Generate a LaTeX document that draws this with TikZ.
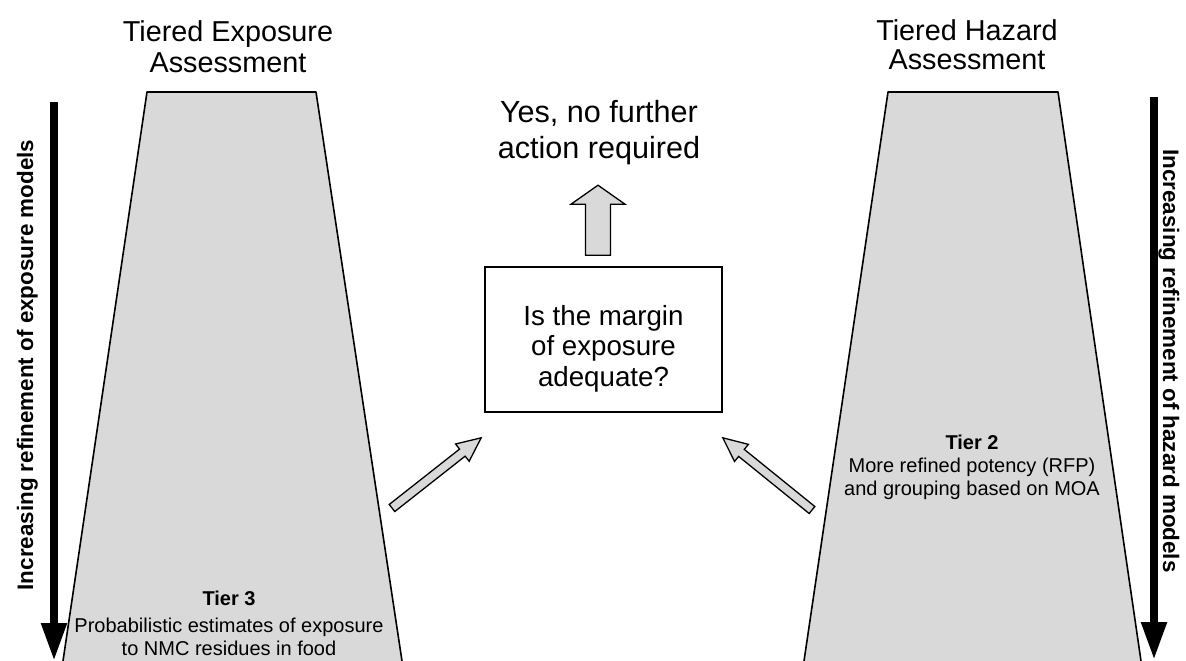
\documentclass[tikz,border=0pt]{standalone}
\usepackage{fontspec}
\setmainfont{Liberation Sans}
\usetikzlibrary{arrows.meta, positioning, calc}

\definecolor{tiergray}{RGB}{217,217,217}

% fat outlined arrow: from, to, half shaft, half head, head length
\newcommand\blockarrow[5]{%
  \coordinate (ba-base) at ($(#2)!#5!(#1)$);
  \draw[block] ($(#1)!#3!90:(#2)$) -- ($(ba-base)!#3!90:(#2)$)
    -- ($(ba-base)!#4!90:(#2)$) -- (#2)
    -- ($(ba-base)!#4!-90:(#2)$) -- ($(ba-base)!#3!-90:(#2)$)
    -- ($(#1)!#3!-90:(#2)$) -- cycle;
}

\begin{document}
\begin{tikzpicture}[
  x=1pt, y=-1pt,
  tier/.style={fill=tiergray},
  tierline/.style={line width=1.6pt,line join=round},
  title/.style={font=\fontsize{28.8}{31}\selectfont,align=center,anchor=base,inner sep=0pt},
  tiertext/.style={font=\fontsize{20}{23}\selectfont,align=center,anchor=base,inner sep=0pt},
  sidelabel/.style={font=\bfseries\fontsize{22.4}{26}\selectfont,anchor=base,inner sep=0pt},
  refine/.style={line width=8pt,-{Triangle[width=24pt,length=38pt]}},
  qbox/.style={draw,line width=1.6pt,minimum width=237pt,minimum height=145pt,inner sep=0pt},
  block/.style={draw,fill=tiergray,line width=1.3pt,line join=miter}
]
\useasboundingbox (0,0) rectangle (1186,661);

% ----- Trapezes ------------------------------------------------------------
\fill[tier] (147,92) -- (316,92) -- (402,661) -- (63,661) -- cycle;
\draw[tierline] (63,661) -- (147,92) -- (316,92) -- (402,661);

\fill[tier] (888,92) -- (1058,92) -- (1141,661) -- (804,661) -- cycle;
\draw[tierline] (804,661) -- (888,92) -- (1058,92) -- (1141,661);

% ----- Titres (ancre sur la derniere ligne) --------------------------------
\node[title] (expTitle) at (228,73) {Tiered Exposure\\Assessment};
\node[title,font=\fontsize{28.8}{29}\selectfont] (hazTitle) at (967,70) {Tiered Hazard\\Assessment};

\node[tiertext] (tier3) at (229,655)
  {\textbf{Tier 3}\\[4pt]Probabilistic estimates of exposure\\to NMC residues in food};
\node[tiertext] (tier2) at (972,495)
  {\textbf{Tier 2}\\More refined potency (RFP)\\and grouping based on MOA};

% ----- Fleches verticales --------------------------------------------------
\coordinate (expTop) at (54,102);
\coordinate (expBot) at (54,661);
\coordinate (hazTop) at (1154,97);
\coordinate (hazBot) at (1154,660);
\draw[refine] (expTop) -- (expBot);
\draw[refine] (hazTop) -- (hazBot);

\node[sidelabel,rotate=90] (expLabel) at (33,365) {Increasing refinement of exposure models};
\node[sidelabel,rotate=-90] (hazLabel) at (1163,361) {Increasing refinement of hazard models};

% ----- Question centrale ---------------------------------------------------
\node[qbox] (q) at (603.5,339.5) {};
\node[font=\fontsize{27.7}{30.5}\selectfont,align=center,anchor=base,inner sep=0pt]
  (qt) at (603.5,386) {Is the margin\\of exposure\\adequate?};

\node[font=\fontsize{30.6}{36}\selectfont,align=center,anchor=base,inner sep=0pt]
  (yes) at (599,158) {Yes, no further\\action required};

% ----- Fleches pleines -----------------------------------------------------
\coordinate (upFrom) at ($(q.north)+(-5.5,-11)$);
\coordinate (upTo)   at ($(q.north)+(-5.5,-81)$);
\blockarrow{upFrom}{upTo}{12.5pt}{27pt}{19pt}

\coordinate (expFrom) at (392,508);
\coordinate (expTo)   at ($(q.south west)+(-3,25)$);
\blockarrow{expFrom}{expTo}{4.5pt}{11pt}{24pt}

\coordinate (hazFrom) at (812,510);
\coordinate (hazTo)   at ($(q.south east)+(0,25)$);
\blockarrow{hazFrom}{hazTo}{4.5pt}{11pt}{24pt}

\end{tikzpicture}
\end{document}
